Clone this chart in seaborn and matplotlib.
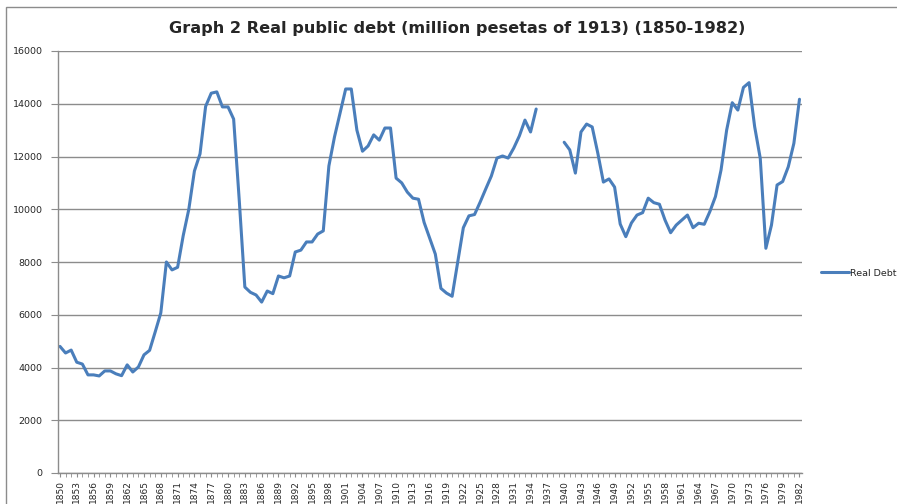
import numpy as np
import pandas as pd
import matplotlib
matplotlib.use("Agg")
import matplotlib.pyplot as plt
from matplotlib.lines import Line2D
from matplotlib.patches import Rectangle
import seaborn as sns

years_a = list(range(1850, 1936))
debt_a = [4800, 4550, 4660, 4200, 4130, 3720, 3720, 3680, 3870, 3870,
          3760, 3690, 4100, 3830, 4020, 4480, 4650, 5350, 6070, 8000,
          7700, 7800, 9000, 10000, 11450, 12100, 13900, 14400, 14450, 13880,
          13880, 13420, 10350, 7050, 6850, 6750, 6480, 6900, 6800, 7470,
          7400, 7470, 8380, 8450, 8760, 8760, 9060, 9180, 11640, 12740,
          13650, 14560, 14560, 13000, 12200, 12400, 12820, 12620, 13080, 13080,
          11180, 11000, 10650, 10420, 10380, 9500, 8900, 8300, 7000, 6820,
          6700, 8000, 9300, 9750, 9800, 10270, 10770, 11260, 11940, 12020,
          11940, 12320, 12780, 13380, 12930, 13800]
years_b = list(range(1940, 1983))
debt_b = [12540, 12250, 11370, 12930, 13230, 13120, 12130, 11030, 11150, 10840,
          9440, 8960, 9480, 9780, 9870, 10420, 10250, 10190, 9590, 9110,
          9400, 9590, 9780, 9300, 9470, 9430, 9910, 10480, 11490, 13000,
          14040, 13760, 14620, 14800, 13130, 11930, 8520, 9400, 10920, 11050,
          11610, 12500, 14170]
series_name = "Real Debt"
title = "Graph 2 Real public debt (million pesetas of 1913) (1850-1982)"
y_ticks = list(range(0, 16001, 2000))
x_labels = list(range(1850, 1983, 3))

df = pd.DataFrame({
    "year": years_a + years_b,
    "debt": debt_a + debt_b,
    "segment": [0] * len(years_a) + [1] * len(years_b),
})

sns.set_style("white")
plt.rcParams['font.family'] = ['DejaVu Sans']

fig = plt.figure(figsize=(8.97, 5.04), dpi=100)
ax = fig.add_axes([58 / 897, 1 - 473 / 504, (802 - 58) / 897, (473 - 51) / 504])

color = "#4A7EBB"
grid_c = "#8C8C8C"
sns.lineplot(data=df, x="year", y="debt", units="segment", estimator=None,
             color=color, linewidth=2.2, ax=ax, legend=False)

ax.set_xlim(1849.65, 1982.45)
ax.set_ylim(0, 16000)
ax.set_yticks(y_ticks)
ax.set_yticklabels([str(v) for v in y_ticks], fontsize=6.8)
ax.yaxis.grid(True, color=grid_c, linewidth=1.0)
ax.xaxis.grid(False)
ax.set_xlabel("")
ax.set_ylabel("")

ax.set_xticks(x_labels)
ax.set_xticklabels([str(v) for v in x_labels], rotation=90, fontsize=6.5)
ax.set_xticks(list(range(1850, 1983)), minor=True)
ax.tick_params(axis="x", which="both", direction="out", length=3, color=grid_c, pad=2)
ax.tick_params(axis="y", direction="out", length=5, color=grid_c, pad=6)
ax.tick_params(left=True, bottom=True, which="both")

for s in ["top", "right"]:
    ax.spines[s].set_visible(False)
for s in ["left", "bottom"]:
    ax.spines[s].set_color(grid_c)
    ax.spines[s].set_linewidth(1.0)

fig.text(457 / 897, 1 - 28 / 504, title, ha="center", va="center",
         fontsize=11.6, fontweight="bold")

handle = Line2D([0], [0], color=color, linewidth=2.2)
fig.legend([handle], [series_name], loc="center left",
           bbox_to_anchor=(812 / 897, 1 - 273 / 504), frameon=False,
           fontsize=6.8, handlelength=3.0, handletextpad=0.1)

fig.patches.append(Rectangle((6 / 897, -0.05), 1.2, 1 - 7 / 504 + 0.05,
                             transform=fig.transFigure, fill=False,
                             edgecolor=grid_c, linewidth=1.0))

fig.savefig("out.png", dpi=100)
